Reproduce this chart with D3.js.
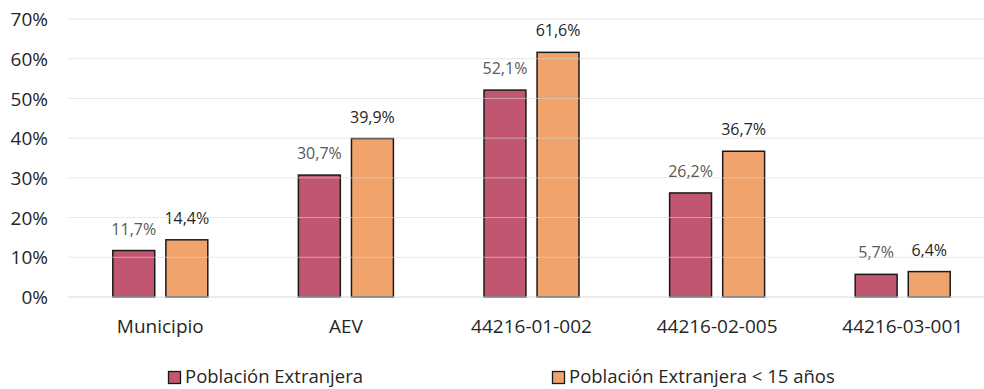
<!DOCTYPE html>
<html><head><meta charset="utf-8">
<script src="https://cdn.jsdelivr.net/npm/d3@7"></script>
<style>body{margin:0;background:#fff;} svg{display:block;font-family:"Open Sans",sans-serif;}</style>
</head><body>
<script>
const categories = ["Municipio","AEV","44216-01-002","44216-02-005","44216-03-001"];
const seriesNames = ["Población Extranjera","Población Extranjera < 15 años"];
const serie1 = [11.7,30.7,52.1,26.2,5.7];
const serie2 = [14.4,39.9,61.6,36.7,6.4];
const yTicks = [0,10,20,30,40,50,60,70];
const colors = ["#c0566f","#f0a46c"];
const labelColors = ["#595959","#262626"];

const W=984,H=389;
const svg=d3.select("body").append("svg").attr("width",W).attr("height",H);
const y=d3.scaleLinear().domain([0,70]).range([297,19]);
const x=d3.scaleBand().domain(categories).range([67.5,995.5]).padding(0);
const inner=d3.scaleBand().domain([0,1]).range([-47.5,47.5]).paddingInner(0.21).paddingOuter(0);

const data=categories.map((c,i)=>({c,v:[serie1[i],serie2[i]]}));
const g=svg.append("g");
data.forEach(d=>{
  d.v.forEach((v,k)=>{
    const cx=x(d.c)+x.bandwidth()/2;
    g.append("rect").attr("x",cx+inner(k)).attr("width",inner.bandwidth())
     .attr("y",y(v)).attr("height",y(0)-y(v))
     .attr("fill",colors[k]).attr("stroke","#1a1a1a").attr("stroke-width",1.5);
    g.append("text").attr("x",cx+inner(k)+inner.bandwidth()/2).attr("y",y(v)-16)
     .attr("text-anchor","middle").attr("font-size",16).attr("fill",labelColors[k])
     .text(d3.format(".1f")(v).replace(".",",")+"%");
  });
});

const grid=svg.append("g");
yTicks.forEach(t=>{
  grid.append("line").attr("x1",68).attr("x2",984).attr("y1",y(t)).attr("y2",y(t))
   .attr("stroke","#d9d9d9").attr("stroke-width",1).attr("opacity",t===0?1:0.6);
});
const yAxis=d3.axisLeft(y).tickValues(yTicks).tickSize(0).tickFormat(d=>d+"%");
const ya=svg.append("g").attr("transform","translate(48,0)").call(yAxis);
ya.select(".domain").remove();
ya.selectAll("text").attr("font-size",19).attr("fill","#262626").attr("font-family","Open Sans").attr("x",0).attr("dy","0.35em");

const xAxis=d3.axisBottom(x).tickSize(0);
const xa=svg.append("g").attr("transform","translate(0,297)").call(xAxis);
xa.select(".domain").remove();
xa.selectAll("text").attr("font-size",19).attr("fill","#262626").attr("font-family","Open Sans").attr("y",36).attr("dy",0);

const legX=[168,552];
seriesNames.forEach((n,k)=>{
  svg.append("rect").attr("x",legX[k]+0.5).attr("y",371.5).attr("width",12).attr("height",12)
   .attr("fill",colors[k]).attr("stroke","#1a1a1a").attr("stroke-width",1.3);
  svg.append("text").attr("x",legX[k]+17).attr("y",383).attr("font-size",18.5).attr("fill","#262626").text(n);
});
</script>
</body></html>
